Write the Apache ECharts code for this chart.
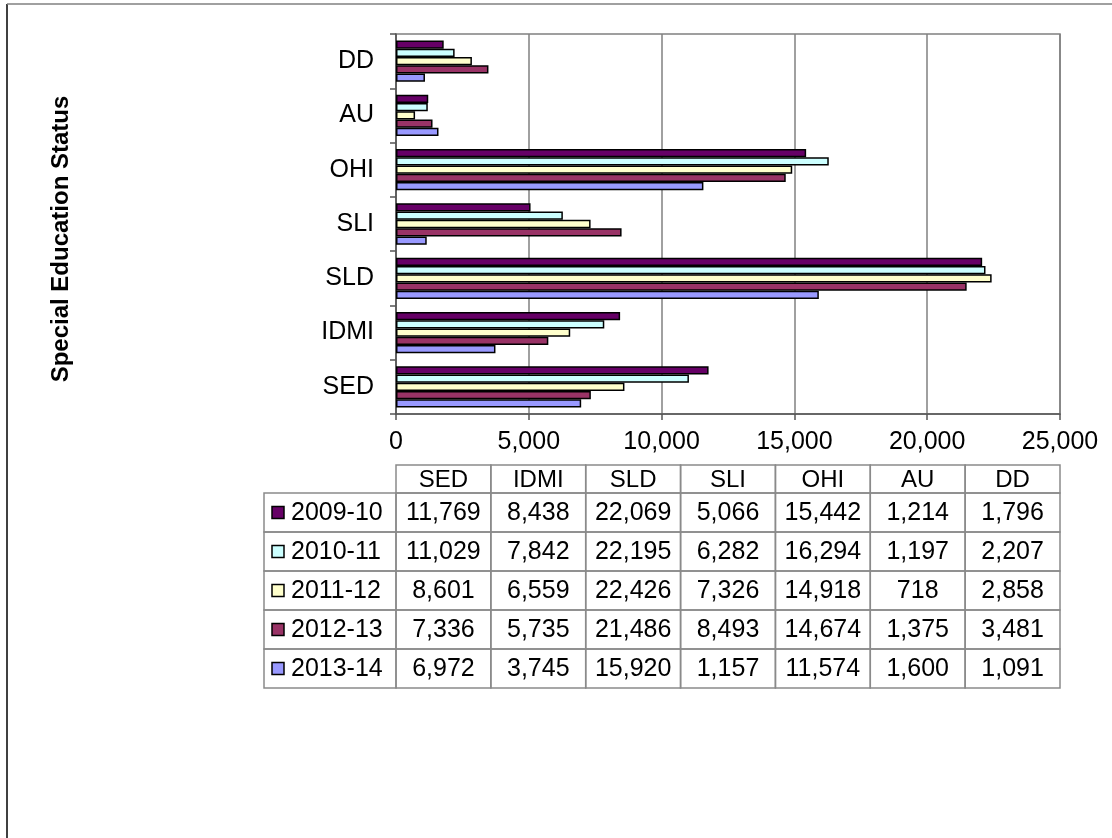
<!DOCTYPE html>
<html><head><meta charset="utf-8">
<script src="https://cdn.jsdelivr.net/npm/echarts@6/dist/echarts.min.js"></script>
<style>html,body{margin:0;padding:0;background:#fff}#c{width:1112px;height:838px}</style>
</head><body><div id="c"></div>
<script>
// ---- data ----
const categories = ['SED', 'IDMI', 'SLD', 'SLI', 'OHI', 'AU', 'DD'];
const seriesNames = ['2009-10', '2010-11', '2011-12', '2012-13', '2013-14'];
const v2009_10 = [11769, 8438, 22069, 5066, 15442, 1214, 1796];
const v2010_11 = [11029, 7842, 22195, 6282, 16294, 1197, 2207];
const v2011_12 = [8601, 6559, 22426, 7326, 14918, 718, 2858];
const v2012_13 = [7336, 5735, 21486, 8493, 14674, 1375, 3481];
const v2013_14 = [6972, 3745, 15920, 1157, 11574, 1600, 1091];
const xMin = 0, xMax = 25000, xStep = 5000;
const axisTitle = 'Special Education Status';

// ---- styles / layout ----
const seriesValues = [v2009_10, v2010_11, v2011_12, v2012_13, v2013_14];
const colors = ['#660066', '#CCFFFF', '#FFFFCC', '#993366', '#9999FF'];
const FONT = '"Liberation Sans", Arial, Helvetica, sans-serif';
const W = 1112, H = 838;
const G = { left: 396, top: 34, right: 1060, bottom: 414 };
const T = { labelLeft: 264, headTop: 465, headBottom: 493, rowH: 39 };
const fmt = v => v.toLocaleString('en-US');

const chart = echarts.init(document.getElementById('c'), null, { renderer: 'canvas' });

const series = seriesNames.map((name, i) => ({
  name: name, type: 'bar', data: seriesValues[i],
  barGap: '0%', barCategoryGap: '24%',
  itemStyle: { color: colors[i], borderColor: '#000', borderWidth: 1.5 },
  emphasis: { disabled: true }, animation: false
}));

const graphic = [];
// outer frame (left and top edges)
graphic.push({ type: 'line', shape: { x1: 7, y1: 4, x2: 7, y2: H }, style: { stroke: '#000', lineWidth: 1.5 } });
graphic.push({ type: 'line', shape: { x1: 7, y1: 4, x2: W, y2: 4 }, style: { stroke: '#808080', lineWidth: 1.5 } });
// axis title
graphic.push({ type: 'text', x: 61, y: 239, rotation: Math.PI / 2,
  style: { text: axisTitle, font: 'bold 24px ' + FONT, fill: '#000', align: 'center', verticalAlign: 'middle' } });

// data table
const colW = (G.right - G.left) / categories.length;
const cellStroke = { stroke: '#8a8a8a', lineWidth: 1.5, fill: 'none' };
categories.forEach((c, j) => {
  const x = G.left + j * colW;
  graphic.push({ type: 'rect', shape: { x: x, y: T.headTop, width: colW, height: T.headBottom - T.headTop }, style: cellStroke });
  graphic.push({ type: 'text', x: x + colW / 2, y: (T.headTop + T.headBottom) / 2 + 1,
    style: { text: c, font: '24px ' + FONT, fill: '#000', align: 'center', verticalAlign: 'middle' } });
});
seriesNames.forEach((s, i) => {
  const y = T.headBottom + i * T.rowH;
  graphic.push({ type: 'rect', shape: { x: T.labelLeft, y: y, width: G.left - T.labelLeft, height: T.rowH }, style: cellStroke });
  graphic.push({ type: 'rect', shape: { x: T.labelLeft + 8, y: y + T.rowH / 2 - 6, width: 12, height: 12 },
    style: { fill: colors[i], stroke: '#000', lineWidth: 1.5 } });
  graphic.push({ type: 'text', x: T.labelLeft + 27, y: y + T.rowH / 2 + 1,
    style: { text: s, font: '25px ' + FONT, fill: '#000', align: 'left', verticalAlign: 'middle' } });
  categories.forEach((c, j) => {
    const x = G.left + j * colW;
    graphic.push({ type: 'rect', shape: { x: x, y: y, width: colW, height: T.rowH }, style: cellStroke });
    graphic.push({ type: 'text', x: x + colW / 2, y: y + T.rowH / 2 + 1,
      style: { text: fmt(seriesValues[i][j]), font: '25px ' + FONT, fill: '#000', align: 'center', verticalAlign: 'middle' } });
  });
});

chart.setOption({
  backgroundColor: '#fff',
  animation: false,
  textStyle: { fontFamily: FONT },
  grid: { left: G.left, top: G.top, width: G.right - G.left, height: G.bottom - G.top,
    show: true, borderColor: '#808080', borderWidth: 1.5, containLabel: false },
  xAxis: {
    type: 'value', min: xMin, max: xMax, interval: xStep,
    axisLine: { show: true, lineStyle: { color: '#555', width: 1.5 } },
    axisTick: { show: true, length: 6, lineStyle: { color: '#555', width: 1.5 } },
    splitLine: { show: true, lineStyle: { color: '#808080', width: 1.5 } },
    axisLabel: { color: '#000', fontSize: 25, fontFamily: FONT, margin: 16, formatter: v => fmt(v) }
  },
  yAxis: {
    type: 'category', data: categories,
    axisLine: { show: true, lineStyle: { color: '#555', width: 1.5 } },
    axisTick: { show: true, length: 6, lineStyle: { color: '#555', width: 1.5 } },
    axisLabel: { color: '#000', fontSize: 25, fontFamily: FONT, margin: 22 }
  },
  series: series,
  graphic: graphic
});
</script></body></html>
